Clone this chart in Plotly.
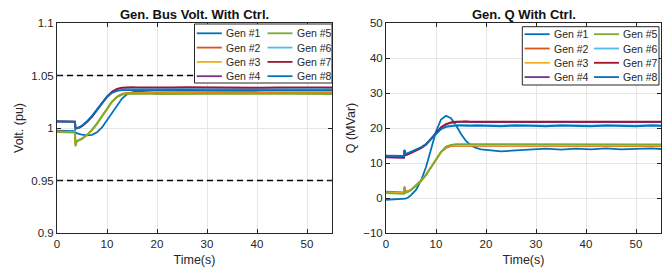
import plotly.graph_objects as go

# ---------------- data ----------------
t = [0, 3.6, 3.7, 3.9, 4.5, 5, 6, 7, 8, 9, 10, 11, 12, 13, 14, 15, 16, 17, 18, 19,
     20, 23, 26, 29, 32, 35, 38, 41, 44, 47, 50, 53, 55]

gen_names = ["Gen #1", "Gen #2", "Gen #3", "Gen #4", "Gen #5", "Gen #6", "Gen #7", "Gen #8"]
gen_colors = ["#0072BD", "#D95319", "#EDB120", "#7E2F8E", "#77AC30", "#4DBEEE", "#A2142F", "#0072BD"]

volt_gen1 = [0.9975, 0.9970, 0.9955, 0.9950, 0.9942, 0.9937, 0.9930, 0.9935, 0.9960, 1.0005, 1.0075,
             1.0145, 1.0220, 1.0280, 1.0320, 1.0340, 1.0348, 1.0352, 1.0354, 1.0355, 1.0355, 1.0354,
             1.0356, 1.0354, 1.0355, 1.0356, 1.0354, 1.0355, 1.0356, 1.0354, 1.0355, 1.0356, 1.0355]
volt_gen2 = [0.9968, 0.9960, 0.9840, 0.9875, 0.9890, 0.9900, 0.9935, 0.9980, 1.0040, 1.0110, 1.0185,
             1.0250, 1.0298, 1.0325, 1.0335, 1.0337, 1.0336, 1.0335, 1.0336, 1.0335, 1.0336, 1.0335,
             1.0336, 1.0334, 1.0335, 1.0336, 1.0335, 1.0334, 1.0336, 1.0335, 1.0334, 1.0336, 1.0335]
volt_gen3 = [0.9965, 0.9958, 0.9835, 0.9872, 0.9888, 0.9898, 0.9932, 0.9977, 1.0037, 1.0107, 1.0182,
             1.0247, 1.0294, 1.0320, 1.0330, 1.0332, 1.0331, 1.0330, 1.0331, 1.0330, 1.0331, 1.0330,
             1.0331, 1.0329, 1.0330, 1.0331, 1.0330, 1.0329, 1.0331, 1.0330, 1.0329, 1.0331, 1.0330]
volt_gen4 = [1.0062, 1.0059, 0.9994, 0.9996, 1.0004, 1.0018, 1.0058, 1.0108, 1.0172, 1.0238, 1.0298,
             1.0342, 1.0368, 1.0379, 1.0383, 1.0383, 1.0382, 1.0381, 1.0382, 1.0381, 1.0382, 1.0381,
             1.0382, 1.0380, 1.0381, 1.0382, 1.0381, 1.0380, 1.0382, 1.0381, 1.0380, 1.0382, 1.0381]
volt_gen5 = [0.9962, 0.9955, 0.9825, 0.9868, 0.9885, 0.9896, 0.9935, 0.9982, 1.0045, 1.0115, 1.0190,
             1.0252, 1.0295, 1.0318, 1.0326, 1.0327, 1.0325, 1.0324, 1.0326, 1.0325, 1.0324, 1.0326,
             1.0325, 1.0323, 1.0325, 1.0326, 1.0324, 1.0323, 1.0325, 1.0326, 1.0324, 1.0325, 1.0324]
volt_gen6 = [1.0060, 1.0057, 0.9993, 0.9995, 1.0003, 1.0017, 1.0056, 1.0106, 1.0170, 1.0235, 1.0293,
             1.0335, 1.0360, 1.0370, 1.0373, 1.0373, 1.0372, 1.0371, 1.0372, 1.0371, 1.0372, 1.0371,
             1.0372, 1.0370, 1.0371, 1.0372, 1.0371, 1.0370, 1.0372, 1.0371, 1.0370, 1.0372, 1.0371]
volt_gen7 = [1.0064, 1.0061, 0.9995, 0.9997, 1.0005, 1.0019, 1.0059, 1.0109, 1.0174, 1.0240, 1.0300,
             1.0345, 1.0372, 1.0384, 1.0388, 1.0388, 1.0387, 1.0386, 1.0387, 1.0386, 1.0387, 1.0386,
             1.0388, 1.0386, 1.0387, 1.0388, 1.0386, 1.0385, 1.0387, 1.0388, 1.0386, 1.0387, 1.0386]
volt_gen8 = [1.0063, 1.0060, 0.9997, 0.9999, 1.0008, 1.0023, 1.0064, 1.0115, 1.0180, 1.0243, 1.0298,
             1.0335, 1.0353, 1.0360, 1.0362, 1.0362, 1.0361, 1.0360, 1.0361, 1.0360, 1.0361, 1.0360,
             1.0362, 1.0360, 1.0361, 1.0362, 1.0360, 1.0359, 1.0361, 1.0362, 1.0360, 1.0361, 1.0360]

q_gen1 = [-0.5, -0.4, -0.3, -0.2, 0.2, 0.8, 2.3, 5.0, 8.8, 13.8, 19.0, 22.4, 23.5, 22.8, 20.8, 18.3,
          16.3, 15.0, 14.3, 13.9, 13.7, 13.3, 13.6, 13.9, 14.1, 13.8, 14.1, 13.9, 14.2, 13.9, 14.1, 14.2, 14.0]
q_gen2 = [1.8, 1.6, 3.3, 1.8, 2.0, 2.4, 3.7, 5.0, 6.7, 8.9, 11.2, 13.1, 14.3, 14.8, 14.9, 14.9,
          14.8, 14.8, 14.9, 14.8, 14.8, 14.7, 14.9, 14.8, 14.7, 14.9, 14.8, 14.7, 14.9, 14.8, 14.7, 14.9, 14.8]
q_gen3 = [1.6, 1.4, 3.1, 1.6, 1.9, 2.3, 3.6, 4.9, 6.6, 8.8, 11.1, 13.1, 14.5, 15.0, 15.1, 15.1,
          15.0, 15.0, 15.1, 15.0, 15.0, 14.9, 15.1, 15.0, 14.9, 15.1, 15.0, 14.9, 15.1, 15.0, 14.9, 15.1, 15.0]
q_gen4 = [11.6, 11.5, 13.5, 12.2, 12.5, 12.8, 13.5, 14.2, 15.2, 16.8, 18.6, 20.1, 21.0, 21.5, 21.7, 21.8,
          21.8, 21.7, 21.7, 21.8, 21.7, 21.6, 21.8, 21.7, 21.6, 21.8, 21.7, 21.6, 21.8, 21.7, 21.6, 21.8, 21.7]
q_gen5 = [1.4, 1.2, 3.0, 1.5, 1.8, 2.2, 3.5, 4.8, 6.5, 8.7, 11.1, 13.2, 14.7, 15.2, 15.4, 15.4,
          15.3, 15.3, 15.4, 15.3, 15.3, 15.2, 15.4, 15.3, 15.2, 15.4, 15.3, 15.2, 15.4, 15.3, 15.2, 15.4, 15.3]
q_gen6 = [12.0, 11.9, 13.7, 12.5, 12.8, 13.1, 13.8, 14.4, 15.3, 16.8, 18.5, 19.8, 20.5, 20.8, 20.9, 20.9,
          20.8, 20.8, 20.9, 20.8, 20.8, 20.7, 20.9, 20.8, 20.7, 20.9, 20.8, 20.7, 20.9, 20.8, 20.7, 20.9, 20.8]
q_gen7 = [11.7, 11.6, 13.6, 12.3, 12.6, 12.9, 13.6, 14.3, 15.3, 16.9, 18.7, 20.2, 21.1, 21.6, 21.8, 21.9,
          21.9, 21.8, 21.8, 21.9, 21.8, 21.7, 21.9, 21.8, 21.7, 21.9, 21.8, 21.7, 21.9, 21.8, 21.7, 21.9, 21.8]
q_gen8 = [12.1, 12.0, 13.8, 12.6, 12.9, 13.2, 13.9, 14.5, 15.4, 16.9, 18.5, 19.7, 20.3, 20.6, 20.7, 20.7,
          20.6, 20.6, 20.7, 20.6, 20.6, 20.5, 20.7, 20.6, 20.5, 20.7, 20.6, 20.5, 20.7, 20.6, 20.5, 20.7, 20.6]

volt_limits = [0.95, 1.05]
time_range = [0, 55]
time_ticks = [0, 10, 20, 30, 40, 50]
volt_ticks = [0.9, 0.95, 1.0, 1.05, 1.1]
volt_ticktext = ["0.9", "0.95", "1", "1.05", "1.1"]
q_ticks = [-10, 0, 10, 20, 30, 40, 50]

titles = ["Gen. Bus Volt. With Ctrl.", "Gen. Q With Ctrl."]
ylabels = ["Volt. (pu)", "Q (MVar)"]
xlabel = "Time(s)"

volt_series = [volt_gen1, volt_gen2, volt_gen3, volt_gen4, volt_gen5, volt_gen6, volt_gen7, volt_gen8]
q_series = [q_gen1, q_gen2, q_gen3, q_gen4, q_gen5, q_gen6, q_gen7, q_gen8]

# ---------------- layout helpers ----------------
# the page body has an 8px margin, so the figure is drawn 8px in from the window's corner
OFF = 8
W, H = 670 - OFF, 270 - OFF
FONT = "Liberation Sans, Arial, sans-serif"
TXT = "#262626"


def px(x):
    """window pixel x -> paper fraction"""
    return (x - OFF) / W


def py(y):
    """window pixel y (from top) -> paper fraction"""
    return 1 - (y - OFF) / H


fig = go.Figure()

for name, color, v in zip(gen_names, gen_colors, volt_series):
    fig.add_trace(go.Scatter(x=t, y=v, mode="lines", name=name, xaxis="x", yaxis="y",
                             line=dict(color=color, width=1.8), showlegend=False))
for lim in volt_limits:
    fig.add_trace(go.Scatter(x=time_range, y=[lim, lim], mode="lines", xaxis="x", yaxis="y",
                             line=dict(color="black", width=1.5, dash="6px,4px"), showlegend=False))
for name, color, q in zip(gen_names, gen_colors, q_series):
    fig.add_trace(go.Scatter(x=t, y=q, mode="lines", name=name, xaxis="x2", yaxis="y2",
                             line=dict(color=color, width=1.8), showlegend=False))

ax_common = dict(showline=True, linecolor=TXT, linewidth=1, mirror="ticks", ticks="inside",
                 ticklen=4, tickcolor=TXT, showgrid=True, gridcolor="#e6e6e6", gridwidth=1,
                 zeroline=False, automargin=False,
                 tickfont=dict(family=FONT, size=11.5, color=TXT))
ydom = [py(233), py(23)]
fig.update_layout(
    width=W, height=H, autosize=False,
    margin=dict(l=0, r=0, t=0, b=0, autoexpand=False),
    paper_bgcolor="white", plot_bgcolor="white",
    xaxis=dict(domain=[px(57), px(332)], anchor="y", range=time_range, tickvals=time_ticks,
               title=dict(text=xlabel, font=dict(family=FONT, size=12.5, color=TXT), standoff=6),
               **ax_common),
    yaxis=dict(domain=ydom, anchor="x", range=[0.9, 1.1], tickvals=volt_ticks, ticktext=volt_ticktext,
               title=dict(text=ylabels[0], font=dict(family=FONT, size=12.5, color=TXT), standoff=4),
               **ax_common),
    xaxis2=dict(domain=[px(386), px(661)], anchor="y2", range=time_range, tickvals=time_ticks,
                title=dict(text=xlabel, font=dict(family=FONT, size=12.5, color=TXT), standoff=6),
                **ax_common),
    yaxis2=dict(domain=ydom, anchor="x2", range=[-10, 50], tickvals=q_ticks,
                title=dict(text=ylabels[1], font=dict(family=FONT, size=12.5, color=TXT), standoff=4),
                **ax_common),
)

# subplot titles
for title, (a, b) in zip(titles, [(57, 332), (386, 661)]):
    fig.add_annotation(text="<b>%s</b>" % title, x=px((a + b) / 2), y=py(14), xref="paper", yref="paper",
                       xanchor="center", yanchor="middle", showarrow=False,
                       font=dict(family=FONT, size=13, color="#111111"))

# legends (two columns, MATLAB style)
legend_boxes = [
    dict(x0=194.5, x1=332, y0=24, y1=83, row0=33.3, step=14.3, col_dx=70.7),
    dict(x0=522.3, x1=659, y0=26.7, y1=85, row0=34.2, step=14.3, col_dx=69.4),
]
for box in legend_boxes:
    fig.add_shape(type="rect", xref="paper", yref="paper", x0=px(box["x0"]), x1=px(box["x1"]),
                  y0=py(box["y1"]), y1=py(box["y0"]), fillcolor="white",
                  line=dict(color=TXT, width=1), layer="above")
    for i, (name, color) in enumerate(zip(gen_names, gen_colors)):
        col, row = divmod(i, 4)
        yy = box["row0"] + row * box["step"]
        xs = box["x0"] + 2.3 + col * box["col_dx"]
        fig.add_shape(type="line", xref="paper", yref="paper", x0=px(xs), x1=px(xs + 25),
                      y0=py(yy), y1=py(yy), line=dict(color=color, width=1.8), layer="above")
        fig.add_annotation(text=name, x=px(xs + 27.5), y=py(yy), xref="paper", yref="paper",
                           xanchor="left", yanchor="middle", showarrow=False,
                           font=dict(family=FONT, size=10.5, color=TXT))

fig.write_html("out.html")
